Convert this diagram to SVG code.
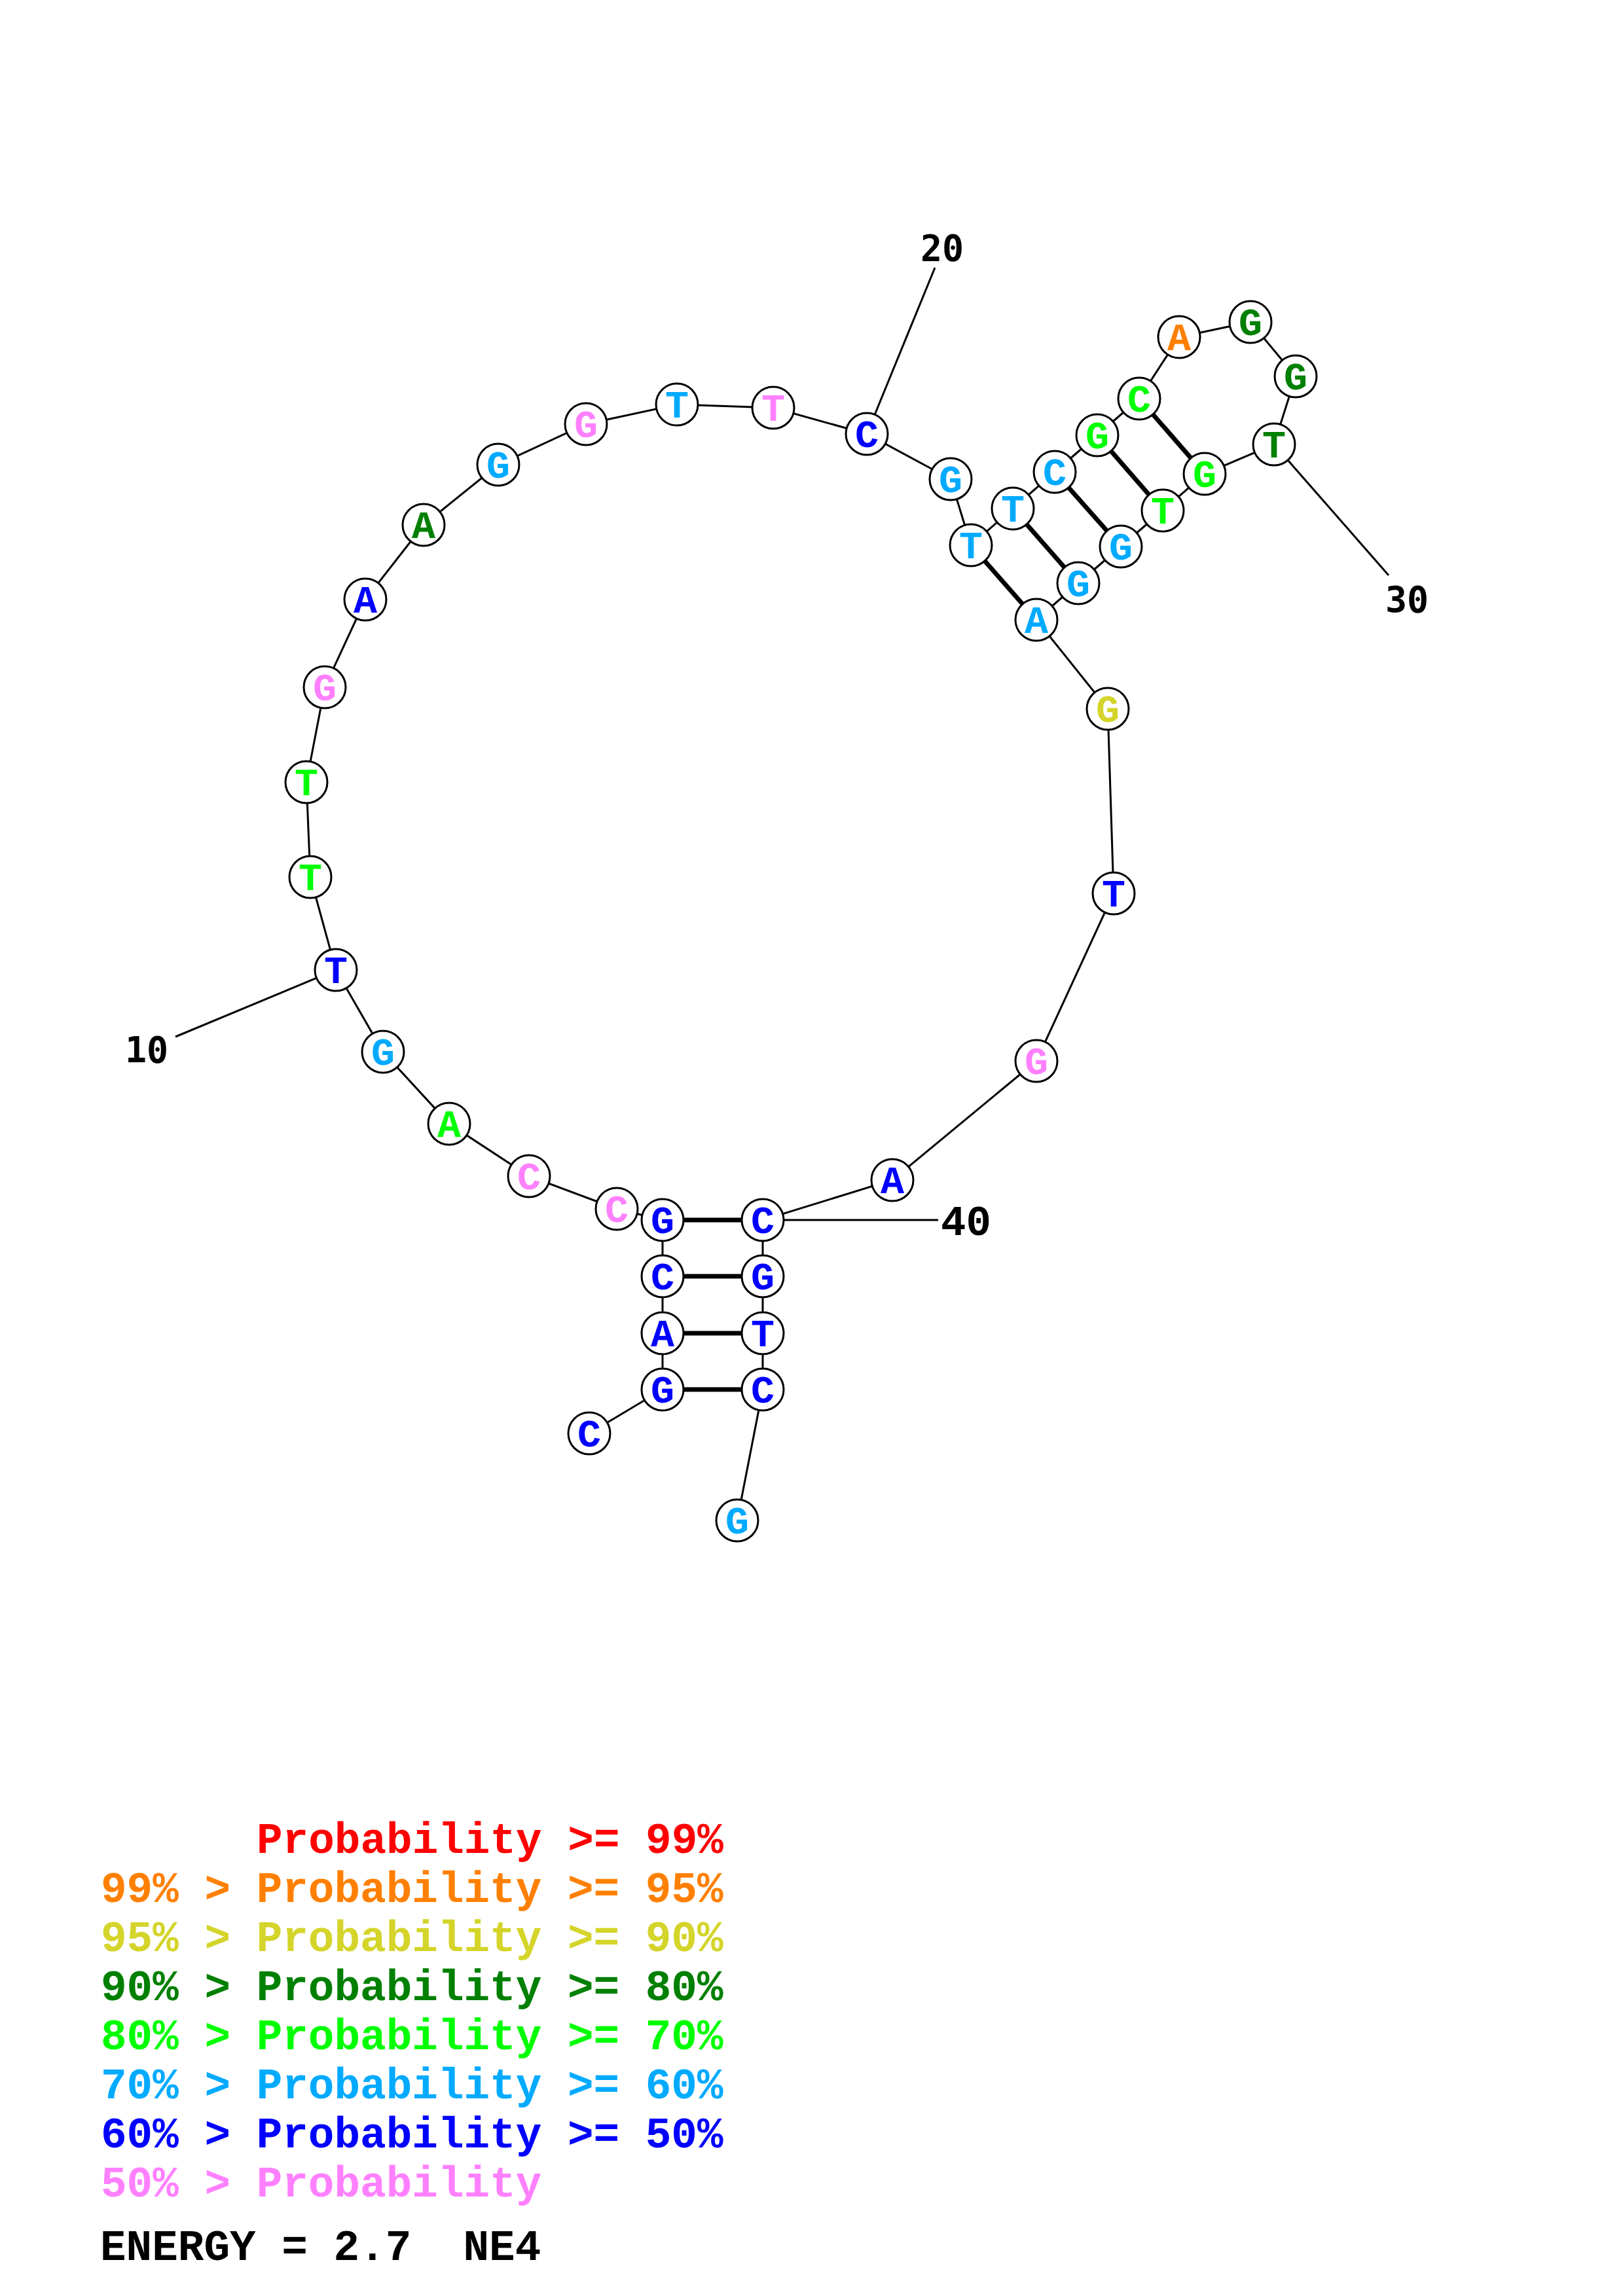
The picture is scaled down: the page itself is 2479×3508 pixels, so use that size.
<svg xmlns="http://www.w3.org/2000/svg" width="2479" height="3508" viewBox="0 0 2479 3508">
<style>
.bb{stroke:#000;stroke-width:3;fill:none}
.bp{stroke:#000;stroke-width:7;fill:none}
.nc{fill:#fff;stroke:#000;stroke-width:3}
.nt{font-family:"Liberation Mono",monospace;font-weight:bold;font-size:60px;text-anchor:middle}
.lab{font-family:"DejaVu Sans Mono",monospace;font-weight:bold;font-size:55px;text-anchor:middle;fill:#000}
.lab2{font-family:"Liberation Mono",monospace;font-weight:bold;font-size:64px;fill:#000}
.lg{font-family:"Liberation Mono",monospace;font-weight:bold;font-size:66px;white-space:pre}
.c1{fill:#FF0000}.c2{fill:#FF8000}.c3{fill:#D4D42A}.c4{fill:#008000}.c5{fill:#00FF00}.c6{fill:#00AAFF}.c7{fill:#0000FF}.c8{fill:#FF80FF}
</style>
<rect width="2479" height="3508" fill="#fff"/>
<g id="connectors">
<polyline class="bb" points="900,2190 1012,2123 1012,2037 1012,1950 1012,1864 942,1847 808,1797 686,1717 585,1607 513,1482 474,1340 468,1195 496,1050 558,916 647,802 761,710 895,648 1034,618 1181,623 1324,663 1452,732 1483,833 1547,777 1611,721 1676,665 1740,609 1801,515 1910,492 1979,575 1946,679 1840,724 1776,780 1712,835 1647,891 1583,947 1692,1083 1701,1365 1583,1621 1363,1803 1165,1864 1165,1950 1165,2037 1165,2123 1126,2323"/>
<line class="bp" x1="1012" y1="2123" x2="1165" y2="2123"/>
<line class="bp" x1="1012" y1="2037" x2="1165" y2="2037"/>
<line class="bp" x1="1012" y1="1950" x2="1165" y2="1950"/>
<line class="bp" x1="1012" y1="1864" x2="1165" y2="1864"/>
<line class="bp" x1="1483" y1="833" x2="1583" y2="947"/>
<line class="bp" x1="1547" y1="777" x2="1647" y2="891"/>
<line class="bp" x1="1611" y1="721" x2="1712" y2="835"/>
<line class="bp" x1="1676" y1="665" x2="1776" y2="780"/>
<line class="bp" x1="1740" y1="609" x2="1840" y2="724"/>
<line class="bb" x1="513" y1="1482" x2="268" y2="1584"/>
<line class="bb" x1="1324" y1="663" x2="1428" y2="409"/>
<line class="bb" x1="1946" y1="679" x2="2121" y2="879"/>
<line class="bb" x1="1165" y1="1864" x2="1433" y2="1864"/>
</g>
<g id="labels">
<text class="lab" x="224" y="1623">10</text>
<text class="lab" x="1439" y="398">20</text>
<text class="lab" x="2149" y="935">30</text>
<text class="lab2" x="1437" y="1887">40</text>
</g>
<g id="n1"><circle class="nc" cx="900" cy="2190" r="32"/><text class="nt c7" x="900" y="2210">C</text></g>
<g id="n2"><circle class="nc" cx="1012" cy="2123" r="32"/><text class="nt c7" x="1012" y="2143">G</text></g>
<g id="n3"><circle class="nc" cx="1012" cy="2037" r="32"/><text class="nt c7" x="1012" y="2057">A</text></g>
<g id="n4"><circle class="nc" cx="1012" cy="1950" r="32"/><text class="nt c7" x="1012" y="1970">C</text></g>
<g id="n5"><circle class="nc" cx="1012" cy="1864" r="32"/><text class="nt c7" x="1012" y="1884">G</text></g>
<g id="n6"><circle class="nc" cx="942" cy="1847" r="32"/><text class="nt c8" x="942" y="1867">C</text></g>
<g id="n7"><circle class="nc" cx="808" cy="1797" r="32"/><text class="nt c8" x="808" y="1817">C</text></g>
<g id="n8"><circle class="nc" cx="686" cy="1717" r="32"/><text class="nt c5" x="686" y="1737">A</text></g>
<g id="n9"><circle class="nc" cx="585" cy="1607" r="32"/><text class="nt c6" x="585" y="1627">G</text></g>
<g id="n10"><circle class="nc" cx="513" cy="1482" r="32"/><text class="nt c7" x="513" y="1502">T</text></g>
<g id="n11"><circle class="nc" cx="474" cy="1340" r="32"/><text class="nt c5" x="474" y="1360">T</text></g>
<g id="n12"><circle class="nc" cx="468" cy="1195" r="32"/><text class="nt c5" x="468" y="1215">T</text></g>
<g id="n13"><circle class="nc" cx="496" cy="1050" r="32"/><text class="nt c8" x="496" y="1070">G</text></g>
<g id="n14"><circle class="nc" cx="558" cy="916" r="32"/><text class="nt c7" x="558" y="936">A</text></g>
<g id="n15"><circle class="nc" cx="647" cy="802" r="32"/><text class="nt c4" x="647" y="822">A</text></g>
<g id="n16"><circle class="nc" cx="761" cy="710" r="32"/><text class="nt c6" x="761" y="730">G</text></g>
<g id="n17"><circle class="nc" cx="895" cy="648" r="32"/><text class="nt c8" x="895" y="668">G</text></g>
<g id="n18"><circle class="nc" cx="1034" cy="618" r="32"/><text class="nt c6" x="1034" y="638">T</text></g>
<g id="n19"><circle class="nc" cx="1181" cy="623" r="32"/><text class="nt c8" x="1181" y="643">T</text></g>
<g id="n20"><circle class="nc" cx="1324" cy="663" r="32"/><text class="nt c7" x="1324" y="683">C</text></g>
<g id="n21"><circle class="nc" cx="1452" cy="732" r="32"/><text class="nt c6" x="1452" y="752">G</text></g>
<g id="n22"><circle class="nc" cx="1483" cy="833" r="32"/><text class="nt c6" x="1483" y="853">T</text></g>
<g id="n23"><circle class="nc" cx="1547" cy="777" r="32"/><text class="nt c6" x="1547" y="797">T</text></g>
<g id="n24"><circle class="nc" cx="1611" cy="721" r="32"/><text class="nt c6" x="1611" y="741">C</text></g>
<g id="n25"><circle class="nc" cx="1676" cy="665" r="32"/><text class="nt c5" x="1676" y="685">G</text></g>
<g id="n26"><circle class="nc" cx="1740" cy="609" r="32"/><text class="nt c5" x="1740" y="629">C</text></g>
<g id="n27"><circle class="nc" cx="1801" cy="515" r="32"/><text class="nt c2" x="1801" y="535">A</text></g>
<g id="n28"><circle class="nc" cx="1910" cy="492" r="32"/><text class="nt c4" x="1910" y="512">G</text></g>
<g id="n29"><circle class="nc" cx="1979" cy="575" r="32"/><text class="nt c4" x="1979" y="595">G</text></g>
<g id="n30"><circle class="nc" cx="1946" cy="679" r="32"/><text class="nt c4" x="1946" y="699">T</text></g>
<g id="n31"><circle class="nc" cx="1840" cy="724" r="32"/><text class="nt c5" x="1840" y="744">G</text></g>
<g id="n32"><circle class="nc" cx="1776" cy="780" r="32"/><text class="nt c5" x="1776" y="800">T</text></g>
<g id="n33"><circle class="nc" cx="1712" cy="835" r="32"/><text class="nt c6" x="1712" y="855">G</text></g>
<g id="n34"><circle class="nc" cx="1647" cy="891" r="32"/><text class="nt c6" x="1647" y="911">G</text></g>
<g id="n35"><circle class="nc" cx="1583" cy="947" r="32"/><text class="nt c6" x="1583" y="967">A</text></g>
<g id="n36"><circle class="nc" cx="1692" cy="1083" r="32"/><text class="nt c3" x="1692" y="1103">G</text></g>
<g id="n37"><circle class="nc" cx="1701" cy="1365" r="32"/><text class="nt c7" x="1701" y="1385">T</text></g>
<g id="n38"><circle class="nc" cx="1583" cy="1621" r="32"/><text class="nt c8" x="1583" y="1641">G</text></g>
<g id="n39"><circle class="nc" cx="1363" cy="1803" r="32"/><text class="nt c7" x="1363" y="1823">A</text></g>
<g id="n40"><circle class="nc" cx="1165" cy="1864" r="32"/><text class="nt c7" x="1165" y="1884">C</text></g>
<g id="n41"><circle class="nc" cx="1165" cy="1950" r="32"/><text class="nt c7" x="1165" y="1970">G</text></g>
<g id="n42"><circle class="nc" cx="1165" cy="2037" r="32"/><text class="nt c7" x="1165" y="2057">T</text></g>
<g id="n43"><circle class="nc" cx="1165" cy="2123" r="32"/><text class="nt c7" x="1165" y="2143">C</text></g>
<g id="n44"><circle class="nc" cx="1126" cy="2323" r="32"/><text class="nt c6" x="1126" y="2343">G</text></g>
<g id="legend">
<text class="lg c1" x="392" y="2831" xml:space="preserve">Probability &gt;= 99%</text>
<text class="lg c2" x="154" y="2906" xml:space="preserve">99% &gt; Probability &gt;= 95%</text>
<text class="lg c3" x="154" y="2981" xml:space="preserve">95% &gt; Probability &gt;= 90%</text>
<text class="lg c4" x="154" y="3056" xml:space="preserve">90% &gt; Probability &gt;= 80%</text>
<text class="lg c5" x="154" y="3131" xml:space="preserve">80% &gt; Probability &gt;= 70%</text>
<text class="lg c6" x="154" y="3206" xml:space="preserve">70% &gt; Probability &gt;= 60%</text>
<text class="lg c7" x="154" y="3281" xml:space="preserve">60% &gt; Probability &gt;= 50%</text>
<text class="lg c8" x="154" y="3356" xml:space="preserve">50% &gt; Probability</text>
<text class="lg" x="153" y="3453" fill="#000" xml:space="preserve">ENERGY = 2.7  NE4</text>
</g>
</svg>
